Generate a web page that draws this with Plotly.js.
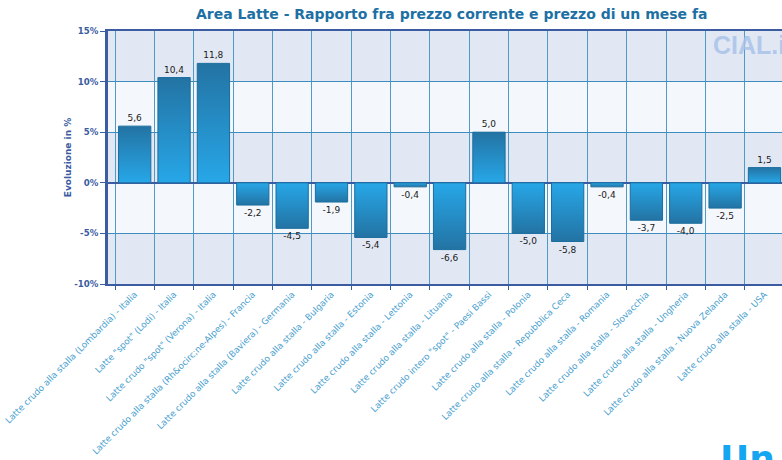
<!DOCTYPE html>
<html>
<head>
<meta charset="utf-8">
<script src="https://cdn.plot.ly/plotly-3.0.1.min.js"></script>
<style>
html,body{margin:0;padding:0;overflow:hidden;background:#fff;}
#chart{width:782px;height:460px;}
</style>
</head>
<body>
<div id="chart"></div>
<script>
var categories = [
  'Latte crudo alla stalla (Lombardia) - Italia',
  'Latte "spot" (Lodi) - Italia',
  'Latte crudo "spot" (Verona) - Italia',
  'Latte crudo alla stalla (Rh&ocirc;ne-Alpes) - Francia',
  'Latte crudo alla stalla (Baviera) - Germania',
  'Latte crudo alla stalla - Bulgaria',
  'Latte crudo alla stalla - Estonia',
  'Latte crudo alla stalla - Lettonia',
  'Latte crudo alla stalla - Lituania',
  'Latte crudo intero "spot" - Paesi Bassi',
  'Latte crudo alla stalla - Polonia',
  'Latte crudo alla stalla - Repubblica Ceca',
  'Latte crudo alla stalla - Romania',
  'Latte crudo alla stalla - Slovacchia',
  'Latte crudo alla stalla - Ungheria',
  'Latte crudo alla stalla - Nuova Zelanda',
  'Latte crudo alla stalla - USA'
];
var values = [5.6, 10.4, 11.8, -2.2, -4.5, -1.9, -5.4, -0.4, -6.6, 5.0, -5.0, -5.8, -0.4, -3.7, -4.0, -2.5, 1.5];
var yTickVals = [-10, -5, 0, 5, 10, 15];
var yTickText = ['-10%', '-5%', '0%', '5%', '10%', '15%'];

var dark = '#3b5ca0';
var font = 'Verdana, "DejaVu Sans", sans-serif';

var trace = {
  type: 'bar',
  x: categories,
  y: values,
  marker: {color: '#268fca', line: {color: '#1b6e9e', width: 1}},
  texttemplate: '%{y:.1f}',
  textposition: 'outside',
  constraintext: 'none',
  cliponaxis: false,
  textfont: {family: font, size: 9, color: '#1a1a1a'},
  hoverinfo: 'none'
};

var bands = [];
for (var i = 0; i < yTickVals.length - 1; i++) {
  if (i % 2 === 0) {
    bands.push({type: 'rect', xref: 'paper', yref: 'y', x0: 0, x1: 1,
      y0: yTickVals[i], y1: yTickVals[i + 1], fillcolor: '#e1e8f4',
      line: {width: 0}, layer: 'below'});
  }
}

var layout = {
  width: 782, height: 460,
  margin: {l: 108, r: 0, t: 31, b: 176, pad: 0},
  paper_bgcolor: '#ffffff',
  plot_bgcolor: '#f4f7fb',
  separators: ',.',
  showlegend: false,
  bargap: 0.18,
  title: {
    text: 'Area Latte - Rapporto fra prezzo corrente e prezzo di un mese fa',
    font: {family: font, size: 14, color: '#1d70a3', weight: 'bold'},
    x: 0.51, xref: 'paper', xanchor: 'center', y: 0.97, yanchor: 'middle'
  },
  xaxis: {
    type: 'category',
    range: [-0.678, 16.445],
    tickson: 'boundaries',
    ticks: 'outside', ticklen: 4, tickcolor: dark, tickwidth: 1,
    showgrid: true, gridcolor: '#4f9ac6', gridwidth: 1,
    showline: true, linecolor: dark, linewidth: 2, mirror: true,
    tickangle: -45,
    tickfont: {family: font, size: 8.8, color: '#4a9fd0'},
    fixedrange: true
  },
  yaxis: {
    range: [-10, 15],
    tickvals: yTickVals, ticktext: yTickText,
    ticks: 'outside', ticklen: 5, tickcolor: dark,
    showgrid: true, gridcolor: '#3f8dbf', gridwidth: 1,
    zeroline: true, zerolinecolor: dark, zerolinewidth: 2,
    showline: true, linecolor: dark, linewidth: 3,
    tickfont: {family: font, size: 8.6, color: dark, weight: 'bold'},
    title: {text: 'Evoluzione in %', standoff: 1,
      font: {family: font, size: 9, color: dark, weight: 'bold'}},
    fixedrange: true
  },
  shapes: bands,
  annotations: [
    {text: 'CIAL.it', xref: 'paper', yref: 'paper', x: 0.894, y: 0.946,
     xanchor: 'left', yanchor: 'middle', showarrow: false, opacity: 0.85,
     font: {family: '"Liberation Sans", Arial, sans-serif', size: 25, color: '#a9c3ea', weight: 'bold'}},
    {text: 'Un', xref: 'paper', yref: 'paper', x: 0.905, y: -0.60,
     xanchor: 'left', yanchor: 'top', showarrow: false,
     font: {family: '"DejaVu Sans", sans-serif', size: 36, color: '#14a6f0', weight: 'bold'}}
  ]
};

Plotly.newPlot('chart', [trace], layout, {staticPlot: true, displayModeBar: false}).then(function (gd) {
  var svg = gd.querySelector('svg.main-svg');
  var ns = 'http://www.w3.org/2000/svg';
  var defs = svg.querySelector('defs') || svg.insertBefore(document.createElementNS(ns, 'defs'), svg.firstChild);
  function grad(id, c1, c2) {
    var g = document.createElementNS(ns, 'linearGradient');
    g.setAttribute('id', id);
    g.setAttribute('x1', '0'); g.setAttribute('y1', '0');
    g.setAttribute('x2', '0'); g.setAttribute('y2', '1');
    [[0, c1], [1, c2]].forEach(function (s) {
      var st = document.createElementNS(ns, 'stop');
      st.setAttribute('offset', s[0]);
      st.setAttribute('stop-color', s[1]);
      g.appendChild(st);
    });
    defs.appendChild(g);
  }
  grad('gPos', '#2373a3', '#27a7e8');
  grad('gNeg', '#27a7e8', '#2373a3');
  var paths = gd.querySelectorAll('.bars .point path');
  paths.forEach(function (p, i) {
    p.style.fill = values[i] >= 0 ? 'url(#gPos)' : 'url(#gNeg)';
  });
});
</script>
</body>
</html>
